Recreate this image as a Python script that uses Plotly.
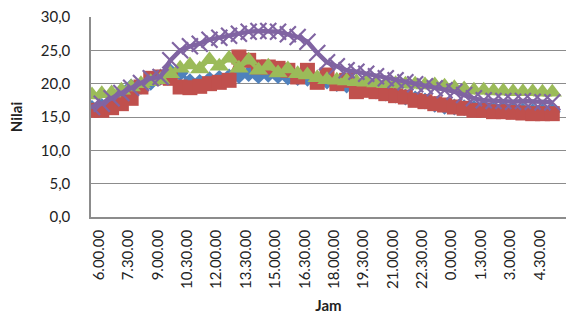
import plotly.graph_objects as go

# categories: every 30 minutes from 6.00 to 5.30
jam = []
for k in range(48):
    tot = 6 * 60 + 30 * k
    h = (tot // 60) % 24
    m = tot % 60
    jam.append(f"{h}.{m:02d}.00")

tick_labels = jam[::3]

seri_biru = [16.3, 16.6, 17.4, 18.5, 19.5, 19.6, 20.2, 21.0, 21.8, 21.6, 20.3, 20.2,
             20.6, 20.8, 21.0, 21.2, 21.5, 21.2, 21.4, 21.2, 21.0, 20.9, 20.8, 20.5,
             20.4, 20.0, 19.8, 19.5, 19.2, 18.9, 18.6, 18.3, 18.0, 17.7, 17.4, 16.9,
             16.6, 16.5, 16.4, 16.3, 16.2, 16.0, 16.0, 15.9, 15.9, 15.8, 15.8, 15.8]

seri_merah = [16.0, 16.0, 16.4, 17.0, 17.8, 19.5, 20.8, 21.0, 20.8, 19.5, 19.4, 19.6,
              20.0, 20.2, 20.5, 24.0, 23.5, 22.5, 22.5, 22.3, 22.0, 21.0, 22.0, 20.2,
              21.3, 20.0, 20.5, 18.8, 19.0, 18.8, 18.5, 18.2, 18.0, 17.5, 17.3, 17.0,
              16.8, 16.5, 16.3, 16.0, 16.0, 15.8, 15.8, 15.7, 15.6, 15.5, 15.5, 15.5]

seri_hijau = [18.3, 18.5, 18.6, 19.0, 19.5, 20.0, 20.3, 20.6, 21.5, 22.3, 22.8, 22.2,
              23.6, 22.6, 23.8, 22.3, 23.5, 22.0, 22.6, 21.6, 22.2, 21.5, 21.3, 20.9,
              20.6, 20.5, 20.4, 20.3, 20.2, 20.1, 20.0, 20.0, 19.9, 19.9, 19.8, 19.8,
              19.6, 19.4, 19.2, 19.0, 19.0, 18.9, 18.9, 18.8, 18.8, 18.8, 18.7, 18.7]

seri_ungu = [16.5, 17.0, 17.8, 18.6, 19.4, 20.1, 20.8, 21.0, 23.5, 25.0, 25.6, 26.0,
             26.6, 26.9, 27.2, 27.5, 27.8, 27.9, 27.9, 27.8, 27.4, 27.0, 26.3, 24.6,
             23.2, 22.6, 22.0, 21.8, 21.5, 21.1, 20.8, 20.5, 20.2, 19.9, 19.6, 19.3,
             19.0, 18.8, 18.3, 17.8, 17.5, 17.4, 17.4, 17.3, 17.4, 17.3, 17.2, 17.2]

y_ticks = [0, 5, 10, 15, 20, 25, 30]
y_tick_text = ["0,0", "5,0", "10,0", "15,0", "20,0", "25,0", "30,0"]

fig = go.Figure()
fig.add_trace(go.Scatter(x=jam, y=seri_biru, mode="lines+markers",
                         line=dict(color="#4F81BD", width=3.5),
                         marker=dict(symbol="diamond", size=13, color="#4F81BD")))
fig.add_trace(go.Scatter(x=jam, y=seri_merah, mode="lines+markers",
                         line=dict(color="#C0504D", width=3.5),
                         marker=dict(symbol="square", size=15, color="#C0504D")))
fig.add_trace(go.Scatter(x=jam, y=seri_hijau, mode="lines+markers",
                         line=dict(color="#9BBB59", width=3.5),
                         marker=dict(symbol="triangle-up", size=17, color="#9BBB59")))
fig.add_trace(go.Scatter(x=jam, y=seri_ungu, mode="lines+markers",
                         line=dict(color="#8064A2", width=4.5),
                         marker=dict(symbol="x-thin", size=16, color="#8064A2",
                                     line=dict(color="#8064A2", width=2.2))))

fig.update_layout(
    template="none",
    width=566, height=324,
    margin=dict(l=91, r=0, t=17, b=107, autoexpand=False),
    paper_bgcolor="white", plot_bgcolor="white",
    showlegend=False,
    font=dict(family="Lato, Open Sans, sans-serif", size=15, color="#222"),
)
fig.update_xaxes(
    type="category", range=[-0.1, 48.4], automargin=False,
    tickmode="array", tickvals=tick_labels, ticktext=tick_labels,
    tickangle=-90, ticklabelshift=7, ticklabelstandoff=5,
    showline=True, linecolor="#8c8c8c", linewidth=1.5,
    showgrid=False, ticks="",
    title=dict(text="<b>Jam</b>", font=dict(size=15), standoff=12),
)
fig.update_yaxes(
    range=[0, 30], automargin=False,
    tickmode="array", tickvals=y_ticks, ticktext=y_tick_text,
    showline=True, linecolor="#8c8c8c", linewidth=1.5,
    showgrid=True, gridcolor="#8c8c8c", gridwidth=1.3,
    ticks="", ticklabelstandoff=16, zeroline=False,
    title=dict(text="<b>Nilai</b>", font=dict(size=15), standoff=14),
)

fig.write_html("out.html", config={"displayModeBar": False},
               post_script="document.body.style.margin='0';document.body.style.padding='0';")
